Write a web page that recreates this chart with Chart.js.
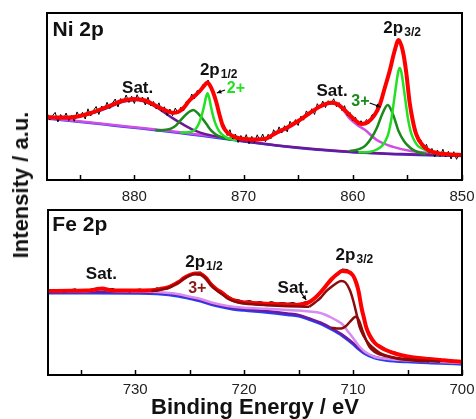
<!DOCTYPE html>
<html>
<head>
<meta charset="utf-8">
<script src="https://cdn.jsdelivr.net/npm/chart.js@4.4.1/dist/chart.umd.min.js"></script>
<style>
body { margin: 0; background: #fff; }
#wrap { position: relative; width: 476px; height: 419px; overflow: hidden; }
#top { position: absolute; left: 0; top: 0; }
#bot { position: absolute; left: 0; top: 195px; }
#ytitle { position: absolute; left: 21px; top: 185px; transform: translate(-50%, -50%) rotate(-90deg);
  font: bold 22px "Liberation Sans", Arial, sans-serif; color: #111; white-space: nowrap; }
</style>
</head>
<body>
<div id="wrap">
<canvas id="top" width="476" height="210"></canvas>
<canvas id="bot" width="476" height="224"></canvas>
<div id="ytitle">Intensity / a.u.</div>
</div>
<script>
// ---- Ni 2p : [binding energy (eV), intensity (a.u.)] ----
var niTicks = [880, 870, 860, 850];
var niMinor = [885, 875, 865, 855];

var niRaw = [[888,67.5],[887.75,59.9],[887.5,64.2],[887.25,67.6],[887,58],[886.75,65.5],[886.5,61],[886.25,67],[886,59.5],[885.75,64.4],
  [885.5,58.7],[885.25,68.1],[885,62.5],[884.75,67.7],[884.5,61],[884.25,71.2],[884,64],[883.75,69.5],[883.5,73.5],[883.25,65.5],
  [883,74],[882.75,70.6],[882.5,77.7],[882.25,71.4],[882,77],[881.75,81],[881.5,73],[881.25,81.5],[881,78],[880.75,85],
  [880.5,77.5],[880.25,83.8],[880,76.5],[879.75,85.3],[879.5,78.9],[879.25,83],[879,75],[878.75,82.8],[878.5,74],[878.25,78.5],
  [878,71],[877.75,77.2],[877.5,68.5],[877.25,73.2],[877,64.5],[876.75,71],[876.5,64.3],[876.25,72],[876,66.5],[875.75,72.8],
  [875.5,69],[875.25,78.5],[875,77.5],[874.75,86],[874.5,81],[874.25,89.5],[874,87.5],[873.75,95.3],[873.5,93.8],[873.25,100],
  [873,91.2],[872.75,89.3],[872.5,76.5],[872.25,70.2],[872,58],[871.75,54.6],[871.5,44.5],[871.25,50.3],[871,41],[870.75,46],
  [870.5,37.5],[870.25,44.5],[870,39.5],[869.75,45.4],[869.5,36.2],[869.25,43.6],[869,37.5],[868.75,45.2],[868.5,39.3],[868.25,46],
  [868,38.2],[867.75,45.7],[867.5,41.2],[867.25,50.3],[867,45.8],[866.75,53.1],[866.5,47],[866.25,54.3],[866,48.1],[865.75,58.7],
  [865.5,54.3],[865.25,60.4],[865,54.5],[864.75,63.9],[864.5,59.8],[864.25,69.1],[864,65],[863.75,71.3],[863.5,65.5],[863.25,76.3],
  [863,72],[862.75,78.9],[862.5,72.4],[862.25,79.3],[862,75.7],[861.75,81.3],[861.5,73.3],[861.25,77.4],[861,69.5],[860.75,74.3],
  [860.5,64.1],[860.25,67.5],[860,59],[859.75,62.7],[859.5,55],[859.25,59.3],[859,55.2],[858.75,60.5],[858.5,57.7],[858.25,65.1],
  [858,66],[857.5,78],[857,93],[856.5,116],[856,133],[855.75,141],[855.5,132],[855,102],[854.5,58],[854.25,51],
  [854,38],[853.75,39.8],[853.5,31],[853.25,35.7],[853,26.8],[852.75,31.6],[852.5,23.1],[852.25,30],[852,23.6],[851.75,30.8],
  [851.5,23],[851.25,28.7],[851,21],[850.75,28.3],[850.5,20.7],[850.25,26.6],[850,22]];

var niEnvelope = [[888,63],[887,62.5],[886,62.5],[885,64],[884,67],[883,71],[882,75.5],[881,79.5],[880,81],[879,79.5],
  [878,74],[877,69],[876.5,67.3],[876,68],[875.5,72],[875,79],[874.5,84],[874,89],[873.7,93],[873.3,97.5],
  [873.1,95],[872.8,88],[872.5,78],[872.2,65],[871.9,54],[871.5,47.5],[871,44],[870.5,42],[870,41],[869,40.5],
  [868,41.2],[867,47.3],[866,52.6],[865,59],[864,66.5],[863,73.5],[862,77.2],[861.5,76.3],[861,72.5],[860.3,65],
  [859.8,60],[859.2,56],[858.6,58],[858,65],[857.5,76],[857.1,91],[856.6,110],[856.2,128],[855.8,140],[855.4,128],
  [855.1,107],[854.8,78],[854.5,59],[854.2,46],[853.7,36],[853.1,30],[852.3,27],[851,25.5],[850,25]];

var niBackground = [[888,61.5],[886,59.2],[884,57],[882,54.6],[880,52.2],[878,49.8],[876,47.3],[874,44.4],[872,41.6],[870,38.5],
  [868,35.8],[866,33.2],[864,31],[862,29.3],[860,27.8],[858,26.7],[856,25.8],[854,25.1],[852,24.5],[850,24]];

var niSat1 = [[888,62.5],[887,62],[886,62],[885,63.7],[884,66.2],[883,69.8],[882,74.2],[881,78.4],[879.8,80],[878.5,75.9],
  [877.5,69.4],[876.5,61.9],[875.5,55.3],[874.5,49.6],[873.5,45.9],[872,42.6],[870,39.1],[866,33.6],[860,28.1],[855,25.7],[850,24.2]];

var niSat2 = [[888,62],[884,57.5],[880,52.8],[876,48],[874,45.2],[872,42.5],[870.5,40.3],[869.5,39.3],[868.5,40.3],[868,41.5],
  [867.5,44],[867,46.5],[866,51.5],[865,58.3],[864,66],[863,73.2],[861.8,77],[861,71.7],[860.3,61.5],[859.5,54.3],
  [858.9,50.2],[857.8,40],[856.3,33.1],[854.8,29.2],[853.3,27.3],[851.5,25.8],[850,25]];

var niHalf2 = [[875.8,47.5],[875.3,47.5],[874.8,48.2],[874.5,49.9],[874.2,54.2],[874,59.1],[873.8,65.8],[873.6,74.8],[873.45,82.6],[873.3,86.7],
  [873.15,82.2],[873,74],[872.8,64.4],[872.6,57.1],[872.3,49.8],[872,45.9],[871.6,42.7],[871.1,40.8],[870.5,39.5]];

var niHalf3 = [[878.1,49.9],[877.6,49.8],[877.1,50.2],[876.6,51.7],[876.2,54.4],[875.8,59.4],[875.4,64.2],[875,68],[874.6,70],[874.2,66.9],
  [873.8,61.9],[873.4,55.9],[873,49.9],[872.6,46.1],[872.1,43.2],[871.6,41.5],[871.1,40.2]];

var niThree2 = [[859.5,27.8],[858.7,27.8],[858.4,28.2],[857.8,30.5],[857.4,33.3],[857.1,37.5],[856.8,44.3],[856.6,52.9],[856.45,62.2],[856.3,73.4],
  [856.15,85.4],[856,97.4],[855.85,107.8],[855.7,112],[855.55,107.7],[855.4,97.2],[855.25,85],[855.1,73],[854.95,61.7],[854.8,53],
  [854.6,45.1],[854.3,38.1],[854,33.7],[853.7,31.9],[853,28],[852.4,26.3],[851.8,25.35]];

var niThree3 = [[860.3,29],[859.8,29.7],[859.3,31.3],[858.8,34.8],[858.3,42],[857.8,52],[857.3,66],[856.8,75],[856.3,65],[855.8,48.7],
  [855.3,38.8],[854.8,32.7],[854.3,29.1],[853.8,27],[853.3,25.9]];

// ---- Fe 2p ----
var feTicks = [730, 720, 710, 700];
var feMinor = [735, 725, 715, 705];

var feRaw = [[738,85.5],[737.5,83],[737,84.5],[736.5,82.5],[736,85.2],[735.5,86.2],[735,83.7],[734.5,83.4],[734,86.3],[733.5,86],
  [733,85.1],[732.5,86.2],[732,86.5],[731.5,83.3],[731,84.8],[730.5,82.8],[730,85.4],[729.5,86],[729,83.5],[728.5,84.8],
  [728,87.3],[727.5,85.5],[727,88.5],[726.5,91.5],[726,92],[725.5,98.5],[725,100.5],[724.5,102.5],[724,103],[723.5,98],
  [723,92],[722.5,86.5],[722,83.5],[721.5,79.5],[721,76],[720.5,75.3],[720,73.5],[719.5,74.5],[719,72.8],[718.5,73.5],
  [718,71.7],[717.5,73.5],[717,71.8],[716.5,72.5],[716,71.7],[715.5,72.5],[715,70.8],[714.5,73],[714,74],[713.5,78.5],
  [713,83.5],[712.5,90.5],[712,96.5],[711.5,102],[711,106],[710.5,105.5],[710,100.5],[709.5,85],[709,56],[708.5,41],
  [708,31],[707.5,29.5],[707,24.5],[706.5,23.8],[706,22.5],[705.5,18.6],[705,19.5],[704.5,18.2],[704,18.5],[703.5,15.5],
  [703,17],[702.5,16],[702,14],[701.5,15.5],[701,13.5],[700.5,14.6],[700,12.3]];

var feEnvelope = [[738,84],[736,84.2],[734.5,84.4],[734,84.8],[733.5,86],[733,86.6],[732.5,85.2],[732,84.5],[730,84.4],[728.5,84.8],
  [728,85.3],[727.5,86.5],[727,87.5],[726.5,90],[726,93],[725.5,97],[725,100],[724.5,101.5],[724,101],[723.5,97],
  [723,90],[722.5,85.5],[722,82],[721.5,77.5],[721,75],[720.5,73.3],[720,72.5],[719,71.8],[718,71.2],[717,70.8],
  [716,70.2],[715.5,70],[715,70.3],[714.5,71],[714,73],[713.5,77],[713,82.5],[712.5,89],[712,95.5],[711.5,100.5],
  [711,104],[710.5,103.5],[710,99.5],[709.7,92],[709.5,84],[709.2,66],[709,57],[708.8,48],[708.5,40],[708,32],
  [707.5,28],[707,25],[706,21],[705,18.5],[704,17],[703,16],[702,15],[701,14],[700,13.3]];

var feBackground = [[738,81.8],[734,81.8],[730,81.6],[728,81],[726,78.6],[725,76.2],[724,73.6],[723,70.2],[722,67.6],[721,65.6],
  [720,64.4],[718,62.6],[716,60.1],[715,58.6],[714,55.2],[713,51.2],[712,45.6],[711,39.1],[710,30.6],[709.5,25.6],
  [709,21.6],[708,16.6],[707,14.6],[705,12.9],[702,11.6],[700,10.6]];

var fePurple = [[738,83],[734,83],[730,82.8],[728,82.3],[726,80],[725,77.5],[724,75],[723,71.5],[722,69],[721,67],
  [720,65.8],[718,64],[716,61.5],[715,60],[714,56.5],[713,52.5],[712,47],[711,40.5],[710,32],[709.5,27],
  [709,23],[708,18],[707,16],[705,14.3],[702,13],[700,12]];

var feSat = [[738,83.8],[735,83.8],[734,84.3],[733.5,85.5],[733.1,86.2],[732.6,85],[732,84],[730,83.5],[728,83],[726,80.8],
  [725,78.3],[724,76],[723,72.5],[722,70],[721,68.3],[720,67.3],[718,66.2],[716,65],[715,64.5],[714,63.5],
  [713,62],[712.5,60],[712,57.5],[711.5,54.5],[711,51],[710.5,44],[710,37],[709.5,29.5],[709,24],[708.5,20.5],
  [708,18],[707,16.3],[705,14.5],[702,13],[700,12]];

var feHalf3 = [[728.5,84],[728,84.6],[727.5,85.8],[727,87],[726.5,89.5],[726,92.5],[725.5,96.5],[725,99.5],[724.5,101],[724,100.5],
  [723.5,96.5],[723,89.5],[722.5,84.5],[722,80.5],[721.5,76.5],[721,74],[720.5,72.5],[720,71.5],[719,70.5],[718,69.8],
  [717,69.2],[716,68.7],[715,68.4],[714,68.3]];

var feThree3a = [[714,68.3],[713.5,72.5],[713,77],[712.5,83.3],[712,88],[711.5,92],[711.1,94],[710.7,92.5],[710.3,85],[710,75],
  [709.7,62],[709.4,48],[709,38.5],[708.7,33.3],[708.2,27.5],[707.6,22.5],[707,19.5],[706,17],[705,15.7],[704,14.8],[703,14],[702,13.3]];

var feThree3b = [[712,47.2],[711.5,46.5],[711.1,46.5],[710.7,48.5],[710.3,53],[710,56.5],[709.8,58.3],[709.6,57.5],[709.4,53],[709.1,43.3],
  [708.8,35],[708.5,28.3],[708,23],[707.5,20.5],[707,19],[706,16.5],[705,15],[704,14],[703,13.5]];

var FONT = '"Liberation Sans", Arial, sans-serif';

function pts(a) { return a.map(function(p) { return { x: p[0], y: p[1] }; }); }

function line(data, color, width, order, smooth) {
  return {
    data: pts(data), borderColor: color, borderWidth: width, pointRadius: 0, fill: false, order: order,
    cubicInterpolationMode: smooth ? 'monotone' : 'default', tension: 0
  };
}

// frame, inward ticks, labels and arrows
var marksPlugin = {
  id: 'marks',
  afterDatasetsDraw: function(chart, args, opts) {
    var ctx = chart.ctx, xs = chart.scales.x, ys = chart.scales.y, a = chart.chartArea;
    ctx.save();
    ctx.strokeStyle = '#000';
    ctx.lineWidth = 2;
    ctx.strokeRect(a.left, a.top, a.right - a.left, a.bottom - a.top);
    ctx.lineWidth = 1.5;
    opts.ticks.forEach(function(v) {
      var px = Math.round(xs.getPixelForValue(v)) + 0.5;
      ctx.beginPath(); ctx.moveTo(px, a.bottom); ctx.lineTo(px, a.bottom - 5); ctx.stroke();
    });
    opts.notes.forEach(function(n) {
      var px = xs.getPixelForValue(n.x), py = ys.getPixelForValue(n.y);
      ctx.fillStyle = n.color || '#111';
      ctx.font = 'bold ' + (n.size || 17) + 'px ' + FONT;
      ctx.textBaseline = 'middle';
      ctx.textAlign = n.align || 'center';
      ctx.fillText(n.t, px, py);
      if (n.sub) {
        var w = ctx.measureText(n.t).width;
        ctx.font = 'bold 12px ' + FONT;
        ctx.textAlign = 'left';
        ctx.fillText(n.sub, px + w + 1, py + 5);
      }
    });
    opts.arrows.forEach(function(r) {
      var x1 = xs.getPixelForValue(r[0]), y1 = ys.getPixelForValue(r[1]);
      var x2 = xs.getPixelForValue(r[2]), y2 = ys.getPixelForValue(r[3]);
      var ang = Math.atan2(y2 - y1, x2 - x1);
      ctx.strokeStyle = '#000'; ctx.fillStyle = '#000'; ctx.lineWidth = 1.2;
      ctx.beginPath(); ctx.moveTo(x1, y1); ctx.lineTo(x2, y2); ctx.stroke();
      ctx.beginPath();
      ctx.moveTo(x2, y2);
      ctx.lineTo(x2 - 5 * Math.cos(ang - 0.45), y2 - 5 * Math.sin(ang - 0.45));
      ctx.lineTo(x2 - 5 * Math.cos(ang + 0.45), y2 - 5 * Math.sin(ang + 0.45));
      ctx.closePath(); ctx.fill();
    });
    ctx.restore();
  }
};

function makeChart(id, c) {
  return new Chart(document.getElementById(id), {
    type: 'line',
    data: { datasets: c.datasets },
    options: {
      responsive: false, animation: false, devicePixelRatio: 1,
      layout: { padding: c.padding },
      plugins: { legend: { display: false }, tooltip: { enabled: false }, marks: c.marks },
      scales: {
        x: {
          type: 'linear', reverse: true, min: c.min, max: c.max,
          grid: { display: false }, border: { display: false },
          ticks: { font: { family: FONT, size: 15 }, color: '#222', padding: c.tickPad, maxRotation: 0, autoSkip: false },
          afterBuildTicks: function(s) { s.ticks = c.ticks.map(function(v) { return { value: v }; }); },
          afterFit: function(s) { s.height = c.axisH; },
          title: c.title
        },
        y: { display: false, min: 0, max: c.ymax }
      }
    },
    plugins: [marksPlugin]
  });
}

makeChart('top', {
  min: 850, max: 888, ymax: 167, ticks: niTicks, axisH: 30, tickPad: 0,
  padding: { left: 47, right: 14, top: 13, bottom: 0 },
  title: { display: false },
  datasets: [
    line(niEnvelope, '#ff0000', 4, 1, true),
    line(niRaw, '#000000', 1, 2, false),
    line(niHalf2, '#22e022', 2.5, 3, true),
    line(niThree2, '#22e022', 2.5, 3, true),
    line(niHalf3, '#1a8a1a', 2.5, 3, true),
    line(niThree3, '#1a8a1a', 2.5, 3, true),
    line(niSat1, '#6e1896', 2.5, 4, true),
    line(niSat2, '#d04ee0', 2.5, 5, true),
    line(niBackground, '#2040ff', 2.5, 6, true)
  ],
  marks: {
    ticks: niTicks.concat(niMinor),
    notes: [
      { t: 'Ni 2p', x: 887.5, y: 150, size: 21, align: 'left' },
      { t: 'Sat.', x: 879.7, y: 92 },
      { t: '2p', sub: '1/2', x: 874.0, y: 110, align: 'left' },
      { t: '2+', x: 870.7, y: 91, color: '#22e022', size: 16 },
      { t: 'Sat.', x: 861.9, y: 89 },
      { t: '3+', x: 859.3, y: 78, color: '#1a8a1a', size: 16 },
      { t: '2p', sub: '3/2', x: 857.2, y: 152, align: 'left' }
    ],
    arrows: [[871.7, 90, 872.45, 87], [858.45, 77, 857.45, 73]]
  }
});

makeChart('bot', {
  min: 700, max: 738, ymax: 165, ticks: feTicks, axisH: 44, tickPad: -2,
  padding: { left: 48, right: 14, top: 15, bottom: 0 },
  title: { display: true, text: 'Binding Energy / eV', color: '#111', font: { family: FONT, size: 22, weight: 'bold' }, padding: { top: 0, bottom: -2 } },
  datasets: [
    line(feHalf3, '#8b0a0a', 2.5, 1, true),
    line(feThree3a, '#8b0a0a', 2.5, 1, true),
    line(feThree3b, '#8b0a0a', 2.5, 1, true),
    line(feEnvelope, '#ff0000', 4, 2, true),
    line(feRaw, '#000000', 1, 3, false),
    line(feSat, '#d68cf0', 2.5, 4, true),
    line(fePurple, '#6e1a9e', 2.5, 5, true),
    line(feBackground, '#2040ff', 2.5, 6, true)
  ],
  marks: {
    ticks: feTicks.concat(feMinor),
    notes: [
      { t: 'Fe 2p', x: 737.6, y: 150, size: 21, align: 'left' },
      { t: 'Sat.', x: 733.1, y: 101 },
      { t: '2p', sub: '1/2', x: 725.4, y: 113, align: 'left' },
      { t: '3+', x: 724.3, y: 86, color: '#8b1a1a', size: 16 },
      { t: 'Sat.', x: 715.5, y: 87 },
      { t: '2p', sub: '3/2', x: 711.6, y: 120, align: 'left' }
    ],
    arrows: [[714.8, 83, 714.3, 75]]
  }
});
</script>
</body>
</html>
